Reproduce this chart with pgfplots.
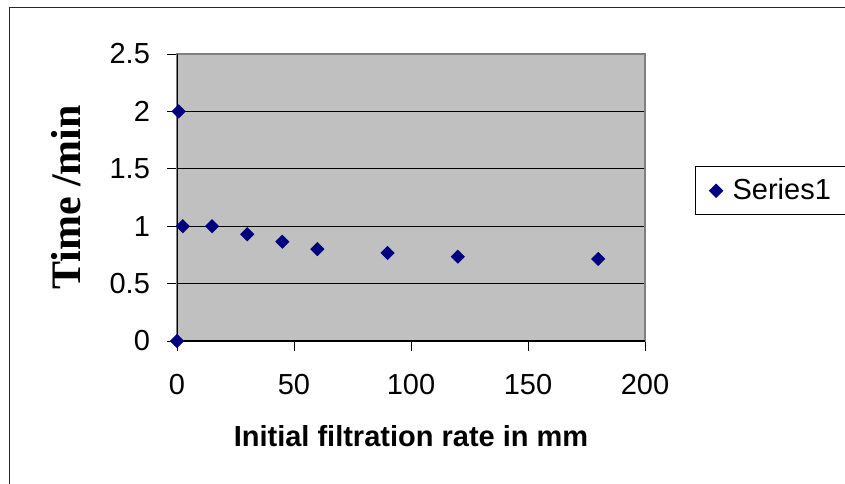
\documentclass[border=0pt]{standalone}
\usepackage{pgfplots}
\pgfplotsset{compat=1.18}
\usepackage{fontspec}
\setmainfont{Liberation Sans}
\newfontfamily\serifb{Liberation Serif}
\definecolor{navy}{RGB}{0,0,128}
\definecolor{plotbg}{RGB}{192,192,192}
\definecolor{border}{RGB}{128,128,128}
\begin{document}
\begin{tikzpicture}
\path[use as bounding box] (0pt,0pt) rectangle (422.5pt,241.5pt);
\draw[line width=0.6pt, black!85] (4.75pt,-3pt) -- (4.75pt,237.75pt) -- (425pt,237.75pt);
\begin{axis}[
  at={(88.5pt,71pt)}, anchor=south west,
  scale only axis, width=234pt, height=143.5pt,
  xmin=0, xmax=200, ymin=0, ymax=2.5,
  xtick={0,50,100,150,200},
  ytick={0,0.5,1,1.5,2,2.5},
  xtick pos=bottom, ytick pos=left,
  tick align=outside, major tick length=5pt,
  tick style={black, line width=0.5pt},
  axis line style={border, line width=0.6pt},
  axis background/.style={fill=plotbg},
  ymajorgrids, grid style={black, line width=0.5pt},
  /pgf/number format/assume math mode=true,
  /pgf/number format/fixed,
  ticklabel style={font=\fontsize{14.5}{17}\selectfont},
  yticklabel style={anchor=east, xshift=-5pt},
  xticklabel style={yshift=-8pt},
  xlabel={\bfseries Initial filtration rate in mm},
  xlabel style={font=\fontsize{14.5}{17}\selectfont, at={(axis description cs:0.5,-0.369)}, anchor=base},
  ylabel={\serifb\bfseries Time /min},
  ylabel style={font=\fontsize{21}{24}\selectfont, at={(axis description cs:-0.207,0.5)}, anchor=base, rotate=0},
  legend style={at={(1.107,0.609)}, anchor=north west, draw=black, line width=0.5pt,
    font=\fontsize{14.5}{17}\selectfont, inner xsep=7pt, inner ysep=4pt,
    /tikz/every odd column/.append style={column sep=3pt}},
  legend cell align=left,
]
\draw[black, line width=0.6pt] (rel axis cs:0,1) -- (rel axis cs:0,0) -- (rel axis cs:1,0);
\addplot[only marks, mark=square*, mark size=2.3pt, mark options={rotate=45, fill=navy, draw=navy}, color=navy]
  coordinates {(0,0) (0.7,2) (2.5,1) (15,1) (30,0.93) (45,0.865) (60,0.8) (90,0.767) (120,0.735) (180,0.715)};
\addlegendentry{Series1}
\end{axis}
\end{tikzpicture}
\end{document}
